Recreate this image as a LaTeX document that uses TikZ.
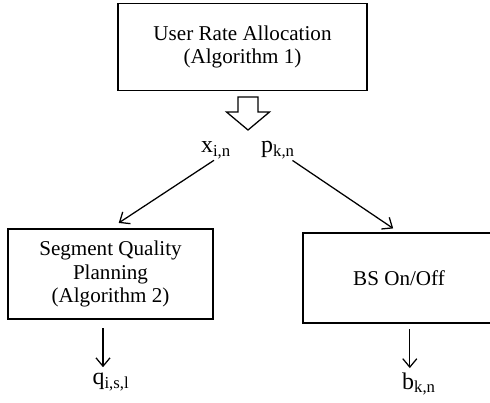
\documentclass[tikz,border=0pt]{standalone}
\usepackage{fontspec}
\setmainfont{Liberation Serif}
\usetikzlibrary{positioning}
\usetikzlibrary{arrows.meta}
\tikzstyle{B} = [rectangle,draw,line width=0.9pt,align=center,font=\fontsize{15}{16.8}\selectfont]
\tikzstyle{L} = [draw=none,inner sep=1pt,font=\fontsize{17}{18}\selectfont]
\tikzstyle{A} = [->,line width=0.9pt]

\begin{document}
\begin{tikzpicture}[x=0.025cm,y=-0.025cm,>={Straight Barb[length=6pt,width=10pt]}]
	\useasboundingbox (0,0) rectangle (490,402);
	
	\node [B,minimum width=6.22cm,minimum height=2.17cm] (ura) at(242.5,47) {User Rate Allocation\\(Algorithm 1)};
	%%%%%%%%%%%%%%%
	\coordinate (tip) at (248,130);
	\draw [line width=0.9pt] (tip) -- ++(-21.5,-18) -- ++(11.5,0) -- ++(0,-15) -- ++(20,0)
	-- ++(0,15) -- ++(11.5,0) -- cycle;
	\node [L] (xin) at(216,150) {x\textsubscript{i,n}};
	\node [L] (pkn) at(278,150) {p\textsubscript{k,n}};
	%%%%%%%%%%%%%%%
	\node [B,minimum width=5.12cm,minimum height=2.25cm] (sqp) at(110.5,274) {Segment Quality\\Planning\\ (Algorithm 2)};
	\node [B,minimum width=4.8cm,minimum height=2.25cm] (bs) at(399,278) {BS On/Off};
	\draw [A,shorten >=7pt] ([xshift=-0.05cm]xin.south) -- (sqp.north) ;
	\draw [A,shorten >=5pt] ([xshift=-0.1cm]pkn.south east) -- (bs.north) ;
	%%%%%%%%%
	\node [L] (qisl) at(111,382) {q\textsubscript{i,s,l}};
	\node [L] (bkn) at(419,384) {b\textsubscript{k,n}};
	\draw [A,shorten <=6pt,shorten >=3pt] ([xshift=-0.2cm]qisl.north |- sqp.south) -- ([xshift=-0.2cm]qisl.north) ;
	\draw [A,shorten <=4pt,shorten >=2pt] ([xshift=-0.23cm]bkn.north |- bs.south) -- ([xshift=-0.23cm]bkn.north) ;
	
\end{tikzpicture}
\end{document}
